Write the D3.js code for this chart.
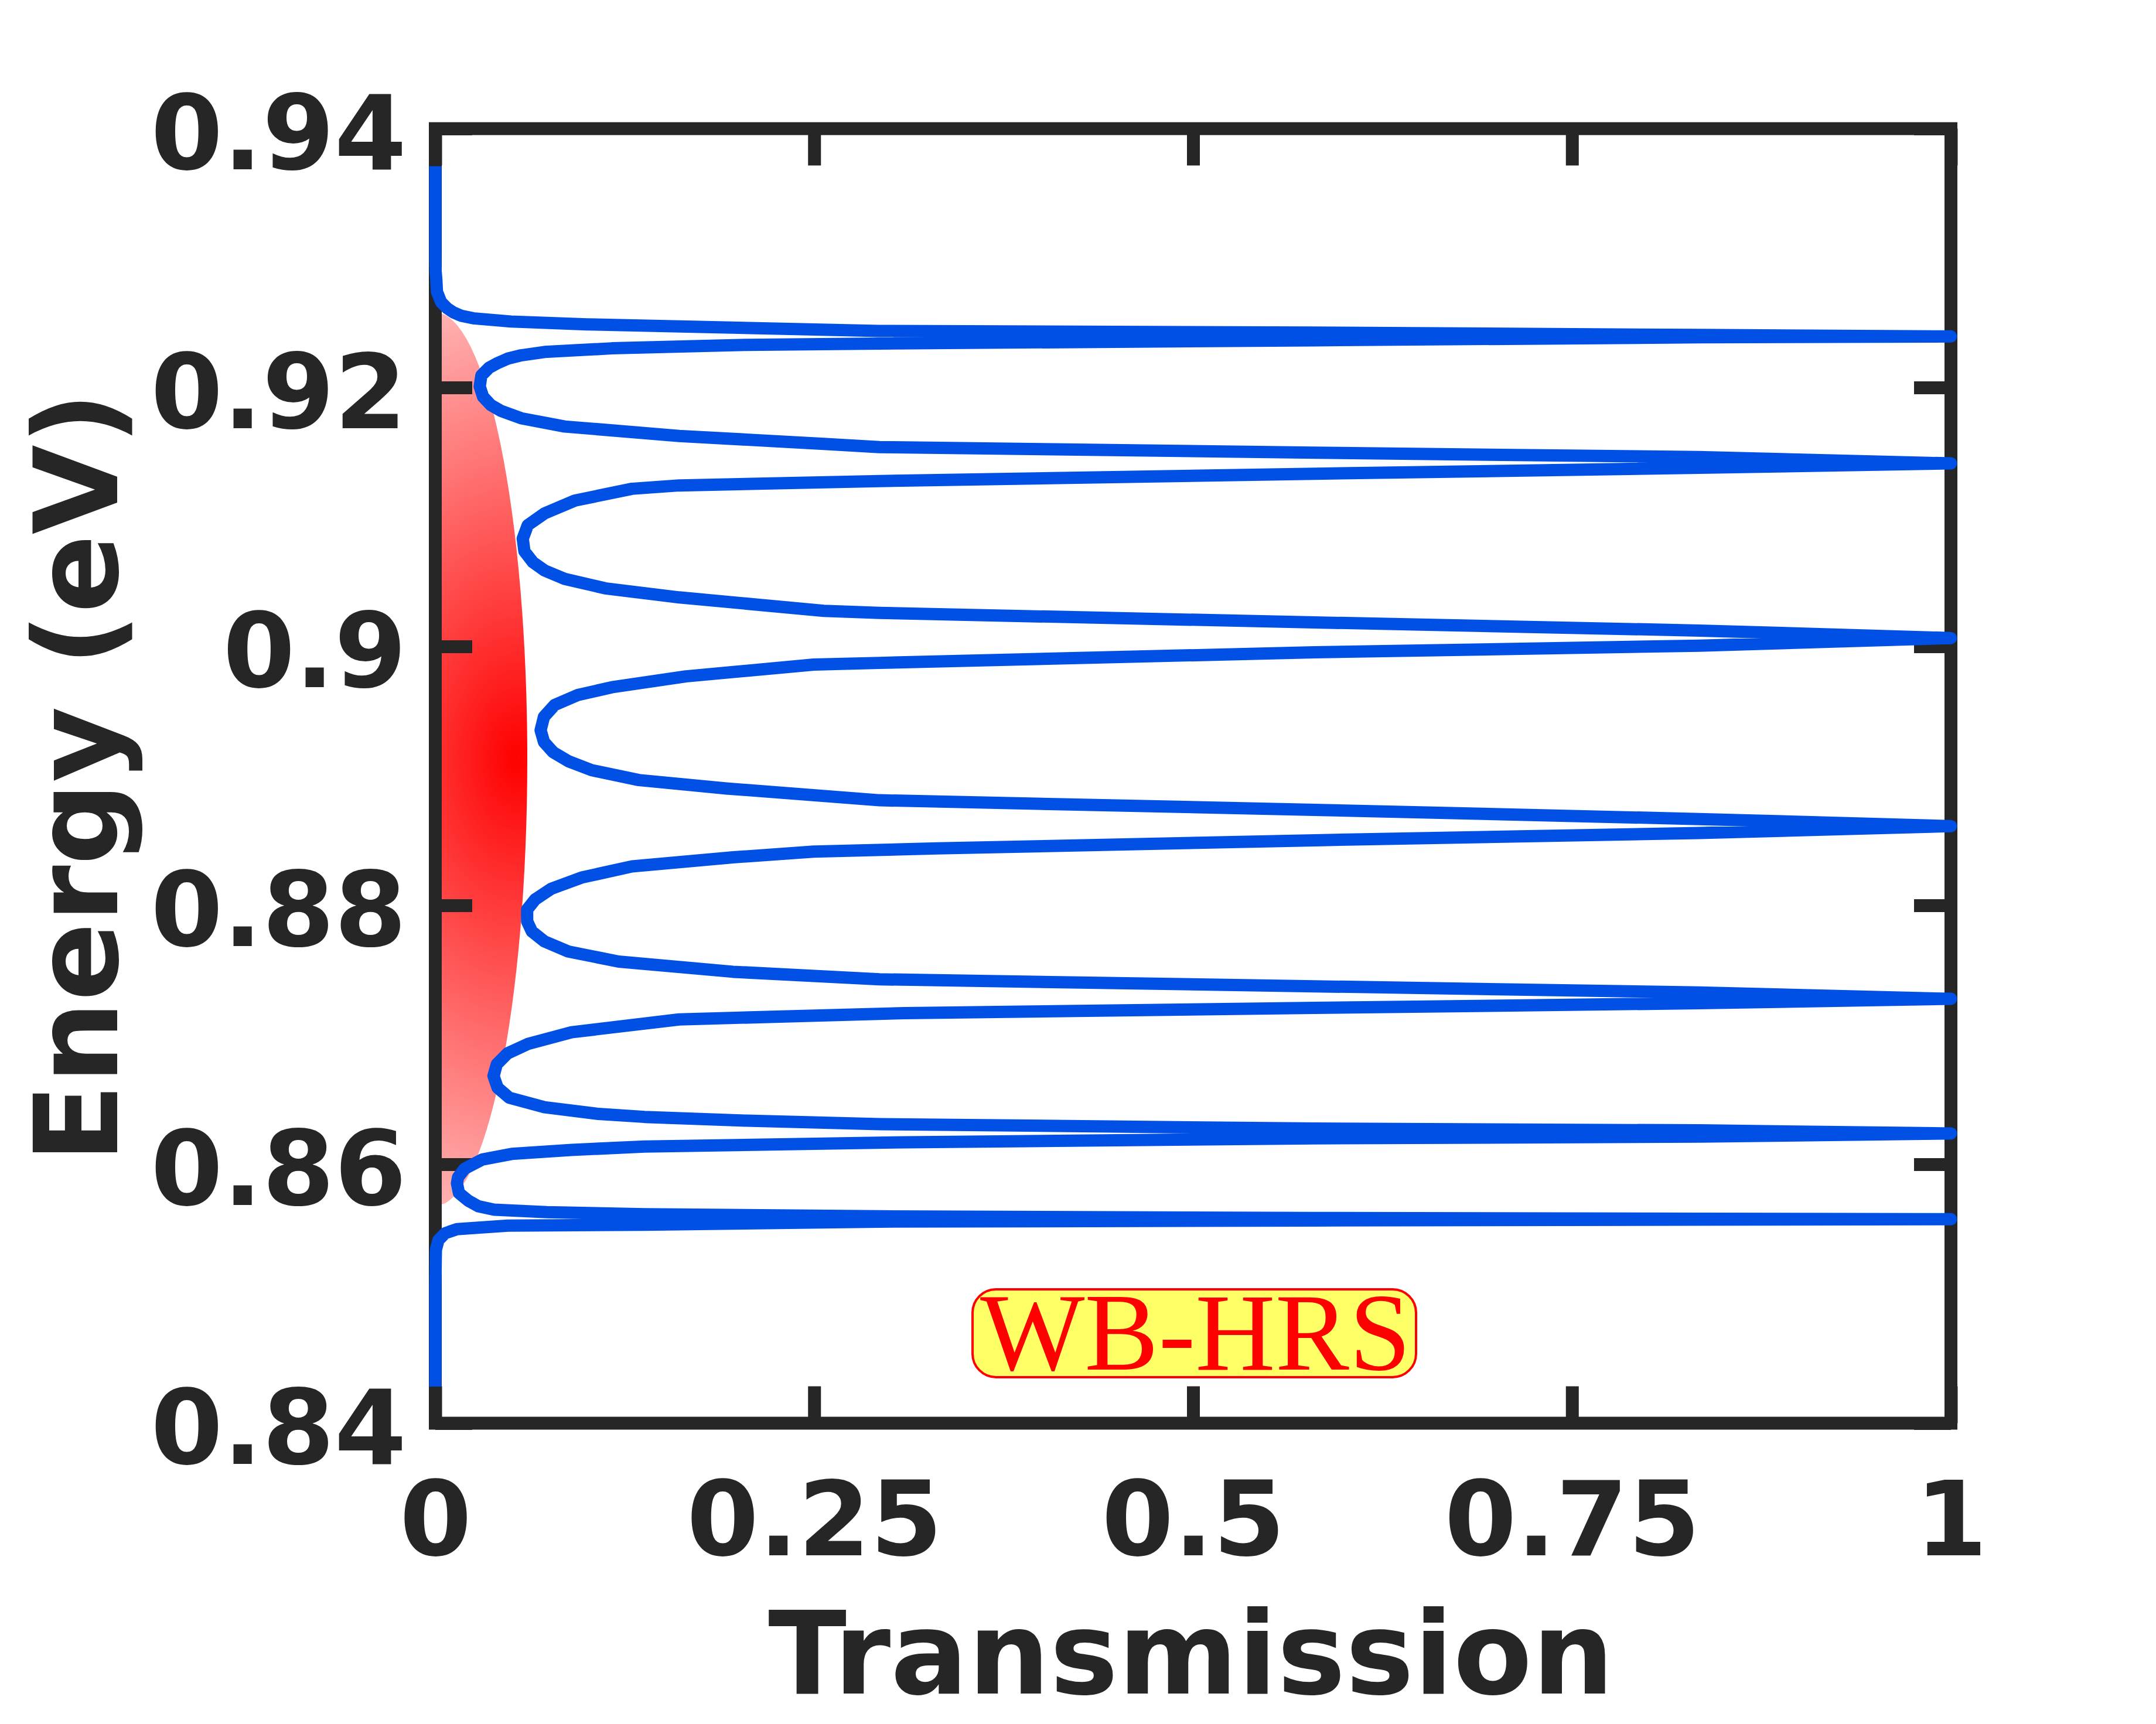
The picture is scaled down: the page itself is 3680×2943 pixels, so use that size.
<!DOCTYPE html>
<html><head><meta charset="utf-8">
<script src="https://cdn.jsdelivr.net/npm/d3@7"></script>
<style>html,body{margin:0;padding:0;background:#fff;} svg{display:block;}</style>
</head><body>
<svg id="chart" width="3680" height="2943"></svg>
<script>
// ---- data ----
const energy = [
 0.9371,0.9300,0.9290,0.9283,0.9274,0.9266,0.92613,0.92580,0.92555,0.92535,0.92510,0.92488,0.92462,0.92437,0.92425,0.92406,
 0.92395,
 0.92388,0.92365,0.92340,0.92330,0.92303,0.92275,0.92249,0.92223,0.92189,0.92153,0.92093,0.92008,0.91929,0.91865,0.91820,0.91763,0.91699,0.91626,0.91565,0.91540,0.91497,0.91463,
 0.91414,
 0.91380,0.91334,0.91278,0.91244,0.91218,0.91127,0.91028,0.90937,0.90833,0.90735,0.90651,0.90587,0.90522,0.90449,0.90379,0.90275,0.90259,0.90186,0.90123,
 0.90065,
 0.90006,0.89955,0.89873,0.89860,0.89769,0.89685,0.89626,0.89548,0.89457,0.89353,0.89262,0.89184,0.89114,0.89044,0.88968,0.88903,0.88812,0.88738,0.88667,
 0.88612,
 0.88559,0.88503,0.88440,0.88415,0.88371,0.88301,0.88215,0.88129,0.88046,0.87968,0.87877,0.87799,0.87721,0.87644,0.87566,0.87487,0.87429,0.87375,0.87327,
 0.87278,
 0.87244,0.87208,0.87168,0.87119,0.87020,0.86929,0.86857,0.86773,0.86683,0.86592,0.86514,0.86441,0.86389,0.86366,0.86337,0.86310,0.86276,0.86262,
 0.86238,
 0.86214,0.86200,0.86170,0.86137,0.86111,0.86080,0.86037,0.85966,0.85900,0.85853,0.85778,0.85717,0.85675,0.85649,0.85630,0.85614,0.85598,0.85585,0.85579,
 0.85576,
 0.85573,0.85566,0.85557,0.85533,0.85526,0.85499,0.85468,0.85415,0.85340,0.85038,0.84283
];
const transmission = [
 0,0,0.0002,0.0007,0.0011,0.0038,0.0078,0.0120,0.0170,0.0250,0.0500,0.1000,0.2000,0.2930,0.5800,0.8340,
 1.0,
 0.8340,0.5800,0.2930,0.2050,0.1165,0.0721,0.0566,0.0477,0.0411,0.0355,0.0304,0.0293,0.0315,0.0366,0.0433,0.0566,0.0854,0.1609,0.2563,0.2930,0.5800,0.8340,
 1.0,
 0.8340,0.5800,0.2930,0.1609,0.1298,0.0921,0.0721,0.0610,0.0577,0.0588,0.0644,0.0721,0.0854,0.1121,0.1609,0.2563,0.2930,0.5800,0.8340,
 1.0,
 0.8340,0.5800,0.2930,0.2496,0.1653,0.1165,0.0943,0.0788,0.0717,0.0695,0.0717,0.0777,0.0877,0.1032,0.1343,0.1920,0.2930,0.5800,0.8340,
 1.0,
 0.8340,0.5800,0.3310,0.2496,0.1964,0.1298,0.0965,0.0766,0.0659,0.0606,0.0606,0.0637,0.0721,0.0877,0.1210,0.1964,0.2930,0.5800,0.8340,
 1.0,
 0.8340,0.5800,0.3100,0.1609,0.0899,0.0610,0.0477,0.0406,0.0384,0.0411,0.0488,0.0721,0.1076,0.1380,0.2053,0.2930,0.5800,0.8340,
 1.0,
 0.8340,0.5800,0.3100,0.1380,0.0899,0.0504,0.0310,0.0194,0.0150,0.0143,0.0156,0.0220,0.0285,0.0388,0.0736,0.1380,0.2930,0.5800,0.8340,
 1.0,
 0.8340,0.5800,0.2930,0.1380,0.0478,0.0143,0.0066,0.0021,0.0004,0,0
];
const xTickValues = [0, 0.25, 0.5, 0.75, 1];
const xTickLabels = ["0", "0.25", "0.5", "0.75", "1"];
const yTickValues = [0.84, 0.86, 0.88, 0.90, 0.92, 0.94];
const yTickLabels = ["0.84", "0.86", "0.88", "0.9", "0.92", "0.94"];
const xTitle = "Transmission";
const yTitle = "Energy (eV)";
// shaded band (half ellipse at T = 0)
const bandEnergyCenter = 0.8913;
const bandEnergyHalfHeight = 0.0345;
const bandTransmissionHalfWidth = 0.0607;
const bandGlowTransmission = 0.053;
// annotation
const labelText = "WB-HRS";
const labelTransmission = 0.5;
const labelEnergy = 0.84695;

// ---- layout ----
const W = 3680, H = 2943;
const L = 743, R = 3330, T = 219.6, B = 2429.5;
const ink = "#262626";
const blue = "#0050e6";

const svg = d3.select("#chart");
svg.append("rect").attr("width", W).attr("height", H).attr("fill", "#fff");

const x = d3.scaleLinear().domain([0, 1]).range([L, R]);
const y = d3.scaleLinear().domain([0.84, 0.94]).range([B, T]);

const defs = svg.append("defs");
defs.append("clipPath").attr("id", "plotClip")
  .append("rect").attr("x", L).attr("y", T).attr("width", R - L).attr("height", B - T);

const gcx = x(bandGlowTransmission), gcy = y(bandEnergyCenter);
const grad = defs.append("radialGradient").attr("id", "bandGrad")
  .attr("gradientUnits", "userSpaceOnUse")
  .attr("cx", gcx).attr("cy", gcy).attr("r", 500)
  .attr("gradientTransform", `translate(${gcx},${gcy}) scale(1,1.574) translate(${-gcx},${-gcy})`);
grad.append("stop").attr("offset", 0).attr("stop-color", "#ff0000");
grad.append("stop").attr("offset", 1).attr("stop-color", "#ffb2b2");

// band
svg.append("g").attr("clip-path", "url(#plotClip)")
  .append("ellipse")
  .attr("cx", x(0))
  .attr("cy", y(bandEnergyCenter))
  .attr("rx", x(bandTransmissionHalfWidth) - x(0))
  .attr("ry", y(bandEnergyCenter - bandEnergyHalfHeight) - y(bandEnergyCenter))
  .attr("fill", "url(#bandGrad)");

// axes
const tickFont = "'DejaVu Sans', 'Liberation Sans', sans-serif";
function styleAxis(g) {
  g.select(".domain").remove();
  g.selectAll(".tick line").attr("stroke", ink).attr("stroke-width", 22).attr("stroke-linecap", "butt");
  g.selectAll(".tick text").attr("fill", ink).attr("font-weight", "bold")
    .attr("font-family", tickFont).attr("font-size", 177);
}
svg.append("g").attr("transform", `translate(${L},0)`)
  .call(d3.axisLeft(y).tickValues(yTickValues).tickFormat((d, i) => yTickLabels[i])
    .tickSizeInner(-63).tickSizeOuter(0).tickPadding(49))
  .call(styleAxis)
  .call(g => g.selectAll(".tick text").attr("dy", "0.39em"));
svg.append("g").attr("transform", `translate(${R},0)`)
  .call(d3.axisRight(y).tickValues(yTickValues).tickFormat(() => "")
    .tickSizeInner(-63).tickSizeOuter(0))
  .call(styleAxis);
svg.append("g").attr("transform", `translate(0,${B})`)
  .call(d3.axisBottom(x).tickValues(xTickValues).tickFormat((d, i) => xTickLabels[i])
    .tickSizeInner(-63).tickSizeOuter(0).tickPadding(100))
  .call(styleAxis);
svg.append("g").attr("transform", `translate(0,${T})`)
  .call(d3.axisTop(x).tickValues(xTickValues).tickFormat(() => "")
    .tickSizeInner(-63).tickSizeOuter(0))
  .call(styleAxis);

// frame
svg.append("rect").attr("x", L).attr("y", T).attr("width", R - L).attr("height", B - T)
  .attr("fill", "none").attr("stroke", ink).attr("stroke-width", 22).attr("stroke-linejoin", "miter");

// transmission curve
const pts = energy.map((e, i) => ({e, t: transmission[i]}));
const line = d3.line().x(d => x(d.t)).y(d => y(d.e));
svg.append("path").datum(pts).attr("d", line)
  .attr("fill", "none").attr("stroke", blue).attr("stroke-width", 21)
  .attr("stroke-linejoin", "round").attr("stroke-linecap", "butt");

// axis titles
svg.append("text").text(xTitle)
  .attr("x", 2033).attr("y", 2891).attr("text-anchor", "middle")
  .attr("font-family", tickFont).attr("font-weight", "bold").attr("font-size", 196).attr("fill", ink);
svg.append("text").text(yTitle)
  .attr("transform", `translate(200,1327) rotate(-90)`).attr("text-anchor", "middle")
  .attr("font-family", tickFont).attr("font-weight", "bold").attr("font-size", 198).attr("fill", ink);

// annotation box
const lx = x(labelTransmission) + 2, ly = y(labelEnergy);
svg.append("rect").attr("x", lx - 378.5).attr("y", ly - 75).attr("width", 757).attr("height", 150)
  .attr("rx", 40).attr("ry", 40).attr("fill", "#ffff66").attr("stroke", "#ff0000").attr("stroke-width", 4);
svg.append("text").text(labelText)
  .attr("x", lx + 2).attr("y", ly + 62).attr("text-anchor", "middle")
  .attr("font-family", "'Liberation Serif', 'Times New Roman', serif").attr("font-size", 189)
  .attr("fill", "#ff0000");
</script>
</body></html>
